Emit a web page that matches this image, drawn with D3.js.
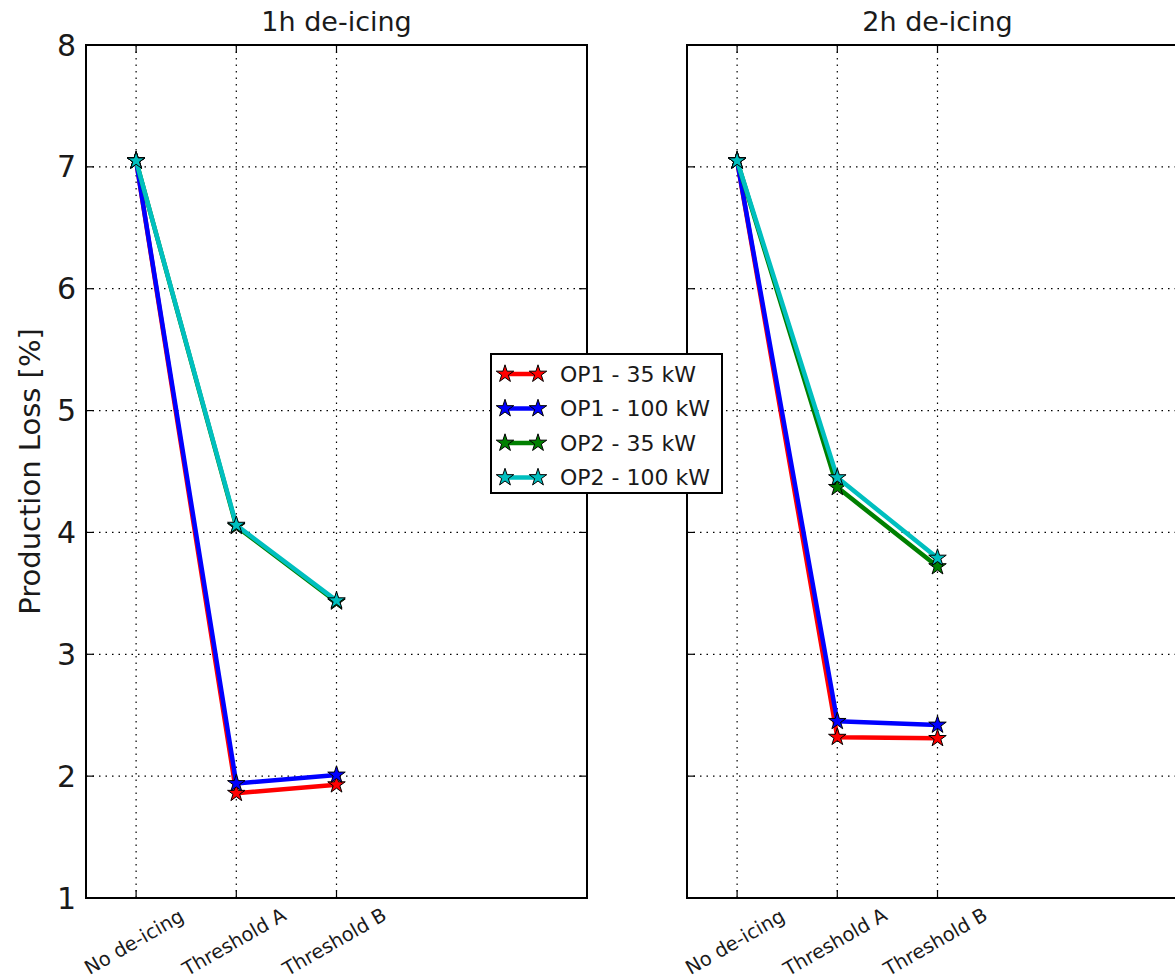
<!DOCTYPE html>
<html>
<head>
<meta charset="utf-8">
<script src="https://cdn.jsdelivr.net/npm/d3@7"></script>
<style>
  body { margin: 0; background: #fff; }
  svg { display: block; font-family: "DejaVu Sans", sans-serif; }
</style>
</head>
<body>
<svg></svg>
<script>
const width = 1175;
const height = 979;

const categories = ["No de-icing", "Threshold A", "Threshold B"];
const panelTitles = ["1h de-icing", "2h de-icing"];
const seriesNames = ["OP1 - 35 kW", "OP1 - 100 kW", "OP2 - 35 kW", "OP2 - 100 kW"];
const seriesColors = ["#ff0000", "#0000ff", "#008000", "#00bfbf"];
const yTicks = [1, 2, 3, 4, 5, 6, 7, 8];

// 1h de-icing
const op1_35_1h = [7.05, 1.86, 1.93];
const op1_100_1h = [7.05, 1.94, 2.01];
const op2_35_1h = [7.05, 4.05, 3.43];
const op2_100_1h = [7.05, 4.06, 3.44];
// 2h de-icing
const op1_35_2h = [7.05, 2.32, 2.31];
const op1_100_2h = [7.05, 2.45, 2.42];
const op2_35_2h = [7.05, 4.37, 3.72];
const op2_100_2h = [7.05, 4.45, 3.79];

const panelData = [
    [op1_35_1h, op1_100_1h, op2_35_1h, op2_100_1h],
    [op1_35_2h, op1_100_2h, op2_35_2h, op2_100_2h]
];

const svg = d3.select("svg")
    .attr("width", width)
    .attr("height", height);

const plotTop = 45, plotBottom = 898, panelW = 501;
const panelLeft = [86, 687];

const y = d3.scaleLinear().domain([1, 8]).range([plotBottom, plotTop]);
const star = d3.symbol().type(d3.symbolStar).size(95);

panelLeft.forEach((left, p) => {
    const x = d3.scaleLinear().domain([-0.5, 4.5]).range([left, left + panelW]);
    const g = svg.append("g");

    // grid
    g.selectAll(".hgrid").data(yTicks.slice(1, -1)).enter().append("line")
        .attr("x1", left).attr("x2", left + panelW)
        .attr("y1", d => y(d)).attr("y2", d => y(d))
        .attr("stroke", "#000").attr("stroke-width", 1.2)
        .attr("stroke-dasharray", "1.5,5");
    g.selectAll(".vgrid").data(categories).enter().append("line")
        .attr("x1", (d, i) => x(i)).attr("x2", (d, i) => x(i))
        .attr("y1", plotTop).attr("y2", plotBottom)
        .attr("stroke", "#000").attr("stroke-width", 1.2)
        .attr("stroke-dasharray", "1.5,5");

    // ticks (inward, both sides)
    yTicks.forEach(t => {
        g.append("line").attr("x1", left).attr("x2", left + 8)
            .attr("y1", y(t)).attr("y2", y(t)).attr("stroke", "#000").attr("stroke-width", 1.2);
        g.append("line").attr("x1", left + panelW).attr("x2", left + panelW - 8)
            .attr("y1", y(t)).attr("y2", y(t)).attr("stroke", "#000").attr("stroke-width", 1.2);
    });
    categories.forEach((c, i) => {
        g.append("line").attr("x1", x(i)).attr("x2", x(i))
            .attr("y1", plotBottom).attr("y2", plotBottom - 8).attr("stroke", "#000").attr("stroke-width", 1.2);
        g.append("line").attr("x1", x(i)).attr("x2", x(i))
            .attr("y1", plotTop).attr("y2", plotTop + 8).attr("stroke", "#000").attr("stroke-width", 1.2);
    });

    // y tick labels only on first panel
    if (p === 0) {
        g.selectAll(".ylab").data(yTicks).enter().append("text")
            .attr("x", left - 10).attr("y", d => y(d))
            .attr("text-anchor", "end").attr("dominant-baseline", "central")
            .attr("font-size", 30).attr("fill", "#1a1a1a")
            .text(d => d);
    }

    // x tick labels
    categories.forEach((c, i) => {
        g.append("text")
            .attr("transform", `translate(${x(i) - 2},${plotBottom + 44}) rotate(-30)`)
            .attr("text-anchor", "middle").attr("dominant-baseline", "central")
            .attr("font-size", 19.5).attr("fill", "#1a1a1a")
            .text(c);
    });

    // title
    g.append("text")
        .attr("x", left + panelW / 2).attr("y", plotTop - 14)
        .attr("text-anchor", "middle")
        .attr("font-size", 27).attr("fill", "#1a1a1a")
        .text(panelTitles[p]);

    // series
    const line = d3.line().x((d, i) => x(i)).y(d => y(d));
    panelData[p].forEach((vals, s) => {
        g.append("path").datum(vals)
            .attr("d", line)
            .attr("fill", "none")
            .attr("stroke", seriesColors[s])
            .attr("stroke-width", 4.5)
            .attr("stroke-linejoin", "round");
        g.selectAll(null).data(vals).enter().append("path")
            .attr("d", star)
            .attr("transform", (d, i) => `translate(${x(i)},${y(d)})`)
            .attr("fill", seriesColors[s])
            .attr("stroke", "#000").attr("stroke-width", 1);
    });

    // frame
    g.append("rect")
        .attr("x", left).attr("y", plotTop)
        .attr("width", panelW).attr("height", plotBottom - plotTop)
        .attr("fill", "none").attr("stroke", "#000").attr("stroke-width", 2);
});

// y axis label
svg.append("text")
    .attr("transform", `translate(40,${(plotTop + plotBottom) / 2}) rotate(-90)`)
    .attr("text-anchor", "middle")
    .attr("font-size", 29).attr("fill", "#1a1a1a")
    .text("Production Loss [%]");

// legend
const lg = svg.append("g").attr("transform", "translate(491,354)");
lg.append("rect")
    .attr("width", 231).attr("height", 139)
    .attr("fill", "#fff").attr("stroke", "#000").attr("stroke-width", 2);
seriesNames.forEach((name, s) => {
    const ly = 20 + s * 34.5;
    lg.append("line").attr("x1", 14).attr("x2", 47).attr("y1", ly).attr("y2", ly)
        .attr("stroke", seriesColors[s]).attr("stroke-width", 4.5);
    [14, 47].forEach(lx => {
        lg.append("path").attr("d", star)
            .attr("transform", `translate(${lx},${ly})`)
            .attr("fill", seriesColors[s]).attr("stroke", "#000").attr("stroke-width", 1);
    });
    lg.append("text")
        .attr("x", 69).attr("y", ly)
        .attr("dominant-baseline", "central")
        .attr("font-size", 22).attr("fill", "#1a1a1a")
        .text(name);
});
</script>
</body>
</html>
